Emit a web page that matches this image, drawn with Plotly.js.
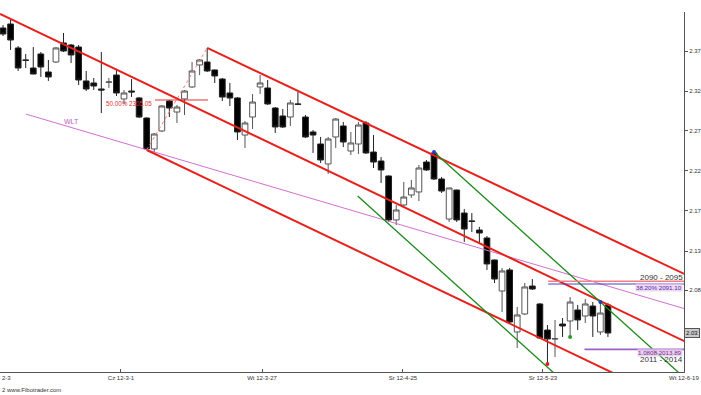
<!DOCTYPE html>
<html><head><meta charset="utf-8">
<script src="https://cdn.plot.ly/plotly-3.0.1.min.js"></script>
<style>html,body{margin:0;padding:0;background:#fff}#c{width:701px;height:395px}</style>
</head><body><div id="c"></div>
<script>
// ---- candle data (bar index 0..80, price) ----
const opens = [2.3937,2.3984,2.3701,2.3559,2.3464,2.3630,2.3417,2.3535,2.3760,2.3736,
2.3712,2.3311,2.3287,2.3216,2.3295,2.3381,2.3098,2.3192,2.3110,2.2873,
2.2507,2.2720,2.3074,2.2944,2.3098,2.3240,2.3500,2.3535,2.3441,2.3334,
2.3169,2.3110,2.2672,2.2885,2.3240,2.3228,2.2991,2.2897,2.2885,2.3039,
2.2885,2.2708,2.2566,2.2330,2.2649,2.2779,2.2483,2.2566,2.2814,2.2471,
2.2365,2.2188,2.1668,2.1845,2.1963,2.1999,2.2353,2.2460,2.2152,2.1679,
2.2022,2.1750,2.1656,2.1549,2.1455,2.1195,2.0828,2.1077,2.0344,2.0557,
2.0887,2.0675,2.0367,2.0261,2.0438,2.0474,2.0604,2.0533,2.0651,2.0344,2.0663];
const highs = [2.3972,2.4055,2.3724,2.3630,2.3712,2.3653,2.3559,2.3712,2.3878,2.3748,
2.3736,2.3429,2.3346,2.3653,2.3346,2.3441,2.3204,2.3334,2.3121,2.2880,
2.2696,2.3027,2.3086,2.3027,2.3204,2.3535,2.3571,2.3701,2.3445,2.3346,
2.3287,2.3121,2.2838,2.3157,2.3381,2.3322,2.3003,2.2980,2.3086,2.3181,
2.2909,2.2731,2.2649,2.2649,2.2873,2.2826,2.2708,2.2826,2.2838,2.2672,
2.2412,2.2195,2.1845,2.2117,2.2140,2.2318,2.2377,2.2471,2.2176,2.2050,
2.2026,2.1798,2.1750,2.1585,2.1478,2.1200,2.1100,2.1100,2.0639,2.0923,
2.0970,2.0687,2.0426,2.0486,2.0509,2.0757,2.0663,2.0734,2.0698,2.0698,2.0687];
const lows = [2.3842,2.3677,2.3429,2.3464,2.3390,2.3358,2.3311,2.3523,2.3653,2.3523,
2.3263,2.3192,2.3204,2.2932,2.3228,2.3133,2.3039,2.3121,2.2873,2.2495,
2.2471,2.2708,2.2885,2.2814,2.2909,2.3228,2.3381,2.3417,2.3287,2.3074,
2.3015,2.2613,2.2519,2.2743,2.3157,2.3027,2.2696,2.2755,2.2779,2.3027,
2.2637,2.2460,2.2341,2.2211,2.2519,2.2530,2.2436,2.2448,2.2448,2.2282,
2.2105,2.1644,2.1608,2.1821,2.1928,2.1892,2.2247,2.2140,2.1987,2.1644,
2.1644,2.1408,2.1526,2.1396,2.1077,2.0923,2.0580,2.0450,2.0155,2.0545,
2.0840,2.0261,1.9966,2.0048,2.0285,2.0285,2.0367,2.0450,2.0285,2.0308,2.0285];
const closes = [2.3866,2.3795,2.3464,2.3555,2.3393,2.3476,2.3358,2.3701,2.3665,2.3618,
2.3322,2.3216,2.3251,2.3204,2.3299,2.3169,2.3169,2.3181,2.2885,2.2507,
2.2684,2.3015,2.2991,2.3003,2.3192,2.3429,2.3559,2.3429,2.3370,2.3121,
2.3110,2.2708,2.2814,2.3062,2.3287,2.3039,2.2767,2.2767,2.3051,2.3035,
2.2649,2.2672,2.2377,2.2625,2.2861,2.2590,2.2578,2.2790,2.2460,2.2353,
2.2259,2.1668,2.1786,2.1939,2.2046,2.2282,2.2259,2.2152,2.2010,2.2046,
2.1668,2.1561,2.1652,2.1514,2.1148,2.0970,2.1065,2.0462,2.0545,2.0876,
2.0852,2.0273,2.0261,2.0265,2.0415,2.0698,2.0486,2.0675,2.0533,2.0568,2.0332];

// ---- axis ticks ----
const xTickPos = [15.60, 34.25, 52.89, 71.40, 90.05];
const xTickLabels = ["Cz 12-3-1","Wt 12-3-27","Sr 12-4-25","Sr 12-5-23","Wt 12-6-19"];
const yTickVals = [2.3665, 2.3192, 2.2720, 2.2247, 2.1774, 2.1301, 2.0840];
const yTickLabels = ["2.37","2.32","2.27","2.22","2.17","2.13","2.08"];

// ---- drawn trend lines (bar index, price) ----
const chanA_x = [-0.4, 90.1],  chanA_y = [2.4103, 2.0235];
const chanB_x = [27, 90.1],    chanB_y = [2.3701, 2.1030];
const chanC_x = [19, 80.8],    chanC_y = [2.2495, 1.9854];
const wlt_x = [3.04, 90.1],    wlt_y = [2.2919, 2.0620];
const grn1_x = [57, 90],       grn1_y = [2.2471, 1.9812];
const grn2_x = [46.9, 74],     grn2_y = [2.1951, 1.9767];
const fib50_x = [20.1, 27.1],  fib50_y = [2.3086, 2.3086];
const zig_x = [19, 27],        zig_y = [2.2495, 2.3701];
const zoneHi_x = [72.1, 90.1], zoneHi_y = [2.0945, 2.0945];
const fib38_x = [72.1, 90.1],  fib38_y = [2.0911, 2.0911];
const fibLo_x = [76.9, 90.1],  fibLo_y = [2.0139, 2.0139];
const blueDots_x = [57, 79],   blueDots_y = [2.2471, 2.0698];
const greenDot_x = [75],       greenDot_y = [2.0285];
const redDot_x = [72],         redDot_y = [1.9966];

const idx = opens.map((_, i) => i);
const F = 'Arial, "Liberation Sans", sans-serif';

function ln(x, y, color, width, dash) {
  return {type:'scatter', mode:'lines', x:x, y:y, hoverinfo:'skip',
          line:{color:color, width:width, dash:dash||'solid'}};
}
function dots(x, y, color) {
  return {type:'scatter', mode:'markers', x:x, y:y, hoverinfo:'skip',
          marker:{color:color, size:4}};
}

const traces = [
  {type:'candlestick', x:idx, open:opens, high:highs, low:lows, close:closes,
   whiskerwidth:0, hoverinfo:'skip',
   increasing:{fillcolor:'#ffffff', line:{color:'#555555', width:1}},
   decreasing:{fillcolor:'#000000', line:{color:'#222222', width:1}}},
  ln(wlt_x, wlt_y, '#d070d0', 1),
  ln(zig_x, zig_y, '#f08080', 1, 'dot'),
  ln(fib50_x, fib50_y, '#e83030', 1),
  ln(chanA_x, chanA_y, '#e8201c', 2),
  ln(chanB_x, chanB_y, '#e8201c', 2),
  ln(chanC_x, chanC_y, '#e8201c', 2),
  ln(grn1_x, grn1_y, '#1a8a1a', 1.3),
  ln(grn2_x, grn2_y, '#1a8a1a', 1.3),
  ln(zoneHi_x, zoneHi_y, '#f08080', 1.5),
  ln(fib38_x, fib38_y, '#4a40c0', 1),
  ln(fibLo_x, fibLo_y, '#9a60c8', 1.6),
  dots(blueDots_x, blueDots_y, '#2a3cc0'),
  dots(greenDot_x, greenDot_y, '#2a9a2a'),
  dots(redDot_x, redDot_y, '#e02020')
];

const PX = v => v / 684, PY = v => (372 - v) / 360;
function note(text, x, y, size, color, xanchor, extra) {
  return Object.assign({text:text, xref:'paper', yref:'paper', x:PX(x), y:PY(y),
    xanchor:xanchor, yanchor:'middle', showarrow:false,
    font:{family:F, size:size, color:color}}, extra||{});
}

const layout = {
  width:701, height:395,
  margin:{l:0, r:17, t:12, b:23, pad:0},
  paper_bgcolor:'#ffffff', plot_bgcolor:'#ffffff',
  showlegend:false, hovermode:false,
  boxgap:0.2, boxgroupgap:0.05,
  xaxis:{range:[-0.4, 90.06], showgrid:false, zeroline:false, showline:true,
    linecolor:'#555555', linewidth:1, ticks:'inside', ticklen:3, tickcolor:'#555555',
    tickmode:'array', tickvals:xTickPos, ticktext:xTickLabels,
    tickfont:{family:F, size:6, color:'#333333'},
    rangeslider:{visible:false}, fixedrange:true},
  yaxis:{side:'right', range:[1.9871, 2.4126], showgrid:false, zeroline:false, showline:true,
    linecolor:'#555555', linewidth:1, ticks:'outside', ticklen:3, tickcolor:'#555555',
    tickmode:'array', tickvals:yTickVals, ticktext:yTickLabels,
    tickfont:{family:F, size:6, color:'#333333'}, fixedrange:true},
  annotations:[
    note('WLT', 71.5, 121, 7, '#c060c0', 'center'),
    note('50.00% 2305.05', 154, 103, 6.3, '#e03030', 'right'),
    note('2090 - 2095', 638, 277, 8, '#333333', 'left'),
    note('38.20% 2091.10', 683, 287, 6.2, '#4a30b0', 'right', {bgcolor:'rgba(235,200,235,0.75)', borderpad:0}),
    note('1.0808 2013.89', 683, 352, 6.2, '#7a2a8a', 'right', {bgcolor:'rgba(225,195,235,0.75)', borderpad:0}),
    note('2011 - 2014', 638, 359, 8, '#333333', 'left'),
    note('2.03', 684, 333, 6, '#111111', 'left', {bgcolor:'#c8c8c8', bordercolor:'#555555', borderwidth:1, borderpad:1}),
    note('2-3', 0, 378, 6, '#333333', 'left'),
    note('2 www.Fibotrader.com', 0, 390, 6, '#333333', 'left')
  ]
};

Plotly.newPlot('c', traces, layout, {displayModeBar:false, staticPlot:true});
</script>
</body></html>
